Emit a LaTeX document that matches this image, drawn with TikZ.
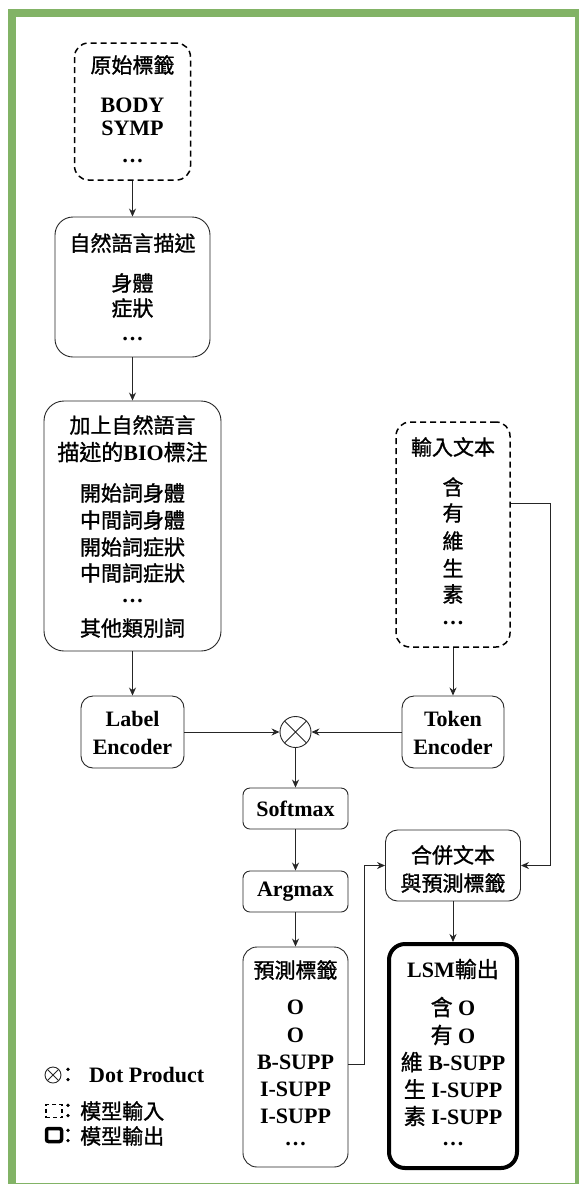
\documentclass[tikz,border=0pt]{standalone}
\usepackage{fontspec}
\setmainfont{Liberation Serif}
\newfontfamily\cjk[BoldFont=*,BoldFeatures={FakeBold=1.2}]{Noto Sans CJK TC}
\usetikzlibrary{arrows.meta}
\definecolor{frameg}{HTML}{82B366}
\newcommand\zh[1]{{\cjk #1}}
\begin{document}
\begin{tikzpicture}[x=1bp,y=-1bp,
  box/.style={draw=black!85, rounded corners=#1, line width=0.9bp, inner sep=0pt},
  box/.default=12bp,
  dbox/.style={draw=black, rounded corners=#1, line width=1.5bp, dash pattern=on 6bp off 4bp, inner sep=0pt},
  obox/.style={draw=black, rounded corners=#1, line width=4bp, inner sep=0pt},
  sz/.style 2 args={minimum width=#1bp, minimum height=#2bp},
  lt/.style={font=\fontsize{22bp}{26bp}\selectfont\bfseries, inner sep=0pt},
  zt/.style={font=\fontsize{21bp}{26bp}\selectfont\cjk\bfseries, inner sep=0pt},
  arr/.style={draw=black!85, line width=0.9bp, -{Stealth[length=8bp,width=7bp]}},
  dotp/.style={circle, draw=black!85, line width=0.9bp, minimum size=#1, inner sep=0pt,
    path picture={\draw[black!85, line width=0.8bp]
      (path picture bounding box.north west) -- (path picture bounding box.south east)
      (path picture bounding box.north east) -- (path picture bounding box.south west);}},
]
\useasboundingbox (0,0) rectangle (579,1184);
\clip (0,0) rectangle (579,1184);
\draw[frameg, line width=8bp] (12,13) rectangle (579,1187);

% boxes
\node[dbox=14bp, sz={116}{137}] (b1) at (132.5,111.5) {};
\node[box=18bp, sz={155}{140}] (b2) at (132.5,287) {};
\node[box=20bp, sz={177}{250}] (b3) at (132.5,526) {};
\node[dbox=14bp, sz={114}{225}] (b4) at (453,534.5) {};
\node[box=12bp, sz={103}{72}] (le) at (132.5,732) {};
\node[box=12bp, sz={102}{72}] (te) at (453,732) {};
\node[dotp=31bp] (dot) at (295.5,732) {};
\node[box=7bp, sz={105}{41}] (sm) at (295.5,808.5) {};
\node[box=7bp, sz={105}{41}] (am) at (295.5,891.5) {};
\node[box=12bp, sz={135}{71}] (mg) at (453,865.5) {};
\node[box=14bp, sz={105}{220}] (pl) at (295.5,1057) {};
\node[obox=16bp, sz={128}{224}] (lsm) at (453,1056) {};

% texts box 1
\node[zt] (t1a) at (132.5,65) {原始標籤};
\node[lt] (t1b) at (132.5,105) {BODY};
\node[lt] (t1c) at (132.5,128) {SYMP};
\node[lt] (t1d) at (132.5,161) {…};
% box 2
\node[zt] (t2a) at (132.5,243) {自然語言描述};
\node[zt] (t2b) at (132.5,283) {身體};
\node[zt] (t2c) at (132.5,308) {症狀};
\node[lt] (t2d) at (132.5,339) {…};
% box 3
\node[zt] (t3a) at (132.5,425) {加上自然語言};
\node[lt] (t3b) at (132.5,452) {\zh{描述的}BIO\zh{標注}};
\node[zt] (t3c) at (132.5,493) {開始詞身體};
\node[zt] (t3d) at (132.5,520) {中間詞身體};
\node[zt] (t3e) at (132.5,547) {開始詞症狀};
\node[zt] (t3f) at (132.5,573) {中間詞症狀};
\node[lt] (t3g) at (132.5,601) {…};
\node[zt] (t3h) at (132.5,628) {其他類別詞};
% box 4
\node[zt] (t4a) at (453,447) {輸入文本};
\node[zt] (t4b) at (453,487) {含};
\node[zt] (t4c) at (453,513) {有};
\node[zt] (t4d) at (453,541) {維};
\node[zt] (t4e) at (453,568) {生};
\node[zt] (t4f) at (453,594) {素};
\node[lt] (t4g) at (453,623) {…};
% encoders
\node[lt] (tle1) at (132.5,719) {Label};
\node[lt] (tle2) at (132.5,747) {Encoder};
\node[lt] (tte1) at (453,719) {Token};
\node[lt] (tte2) at (453,747) {Encoder};
\node[lt] (tsm) at (295.5,808.5) {Softmax};
\node[lt] (tam) at (295.5,891.5) {Argmax};
\node[zt] (tmg1) at (453,855) {合併文本};
\node[zt] (tmg2) at (453,883) {與預測標籤};
% predicted labels
\node[zt] (tp0) at (295.5,970) {預測標籤};
\node[lt] (tp1) at (295.5,1007) {O};
\node[lt] (tp2) at (295.5,1035) {O};
\node[lt] (tp3) at (295.5,1062) {B-SUPP};
\node[lt] (tp4) at (295.5,1089) {I-SUPP};
\node[lt] (tp5) at (295.5,1116) {I-SUPP};
\node[lt] (tp6) at (295.5,1144) {…};
% LSM output
\node[lt] (tl0) at (453,969) {LSM\zh{輸出}};
\node[lt] (tl1) at (453,1007) {\zh{含} O};
\node[lt] (tl2) at (453,1035) {\zh{有} O};
\node[lt] (tl3) at (453,1062) {\zh{維} B-SUPP};
\node[lt] (tl4) at (453,1089) {\zh{生} I-SUPP};
\node[lt] (tl5) at (453,1116) {\zh{素} I-SUPP};
\node[lt] (tl6) at (453,1144) {…};

% connectors
\draw[arr] (b1) -- (b2);
\draw[arr] (b2) -- (b3);
\draw[arr] (b3) -- (le);
\draw[arr] (b4) -- (te);
\draw[arr] (le) -- (dot);
\draw[arr] (te) -- (dot);
\draw[arr] (dot) -- (sm);
\draw[arr] (sm) -- (am);
\draw[arr] (am) -- (pl);
\draw[arr] (mg) -- (lsm);
\coordinate (c1) at (550,503);
\draw[arr] (b4.east |- c1) -- (c1) -- (c1 |- mg.east) -- (mg.east);
\coordinate (c2) at (364,1064);
\draw[arr] (pl.east |- c2) -- (c2) -- (c2 |- mg.west) -- (mg.west);

% legend
\node[dotp=16bp] (lg1) at (53,1075) {};
\node[zt] (lg1c) at (68,1075) {：};
\node[lt, anchor=west] (lg1t) at (89,1075) {Dot Product};
\node[draw=black, line width=1.3bp, dash pattern=on 4bp off 3bp, sz={16}{13}, inner sep=0pt] (lg2) at (54,1111) {};
\node[zt] (lg2c) at (68,1111) {：};
\node[zt, anchor=west] (lg2t) at (80,1111) {模型輸入};
\node[draw=black, line width=3.5bp, rounded corners=2bp, sz={15}{13}, inner sep=0pt] (lg3) at (54,1135) {};
\node[zt] (lg3c) at (68,1136) {：};
\node[zt, anchor=west] (lg3t) at (80,1136) {模型輸出};
\end{tikzpicture}
\end{document}
